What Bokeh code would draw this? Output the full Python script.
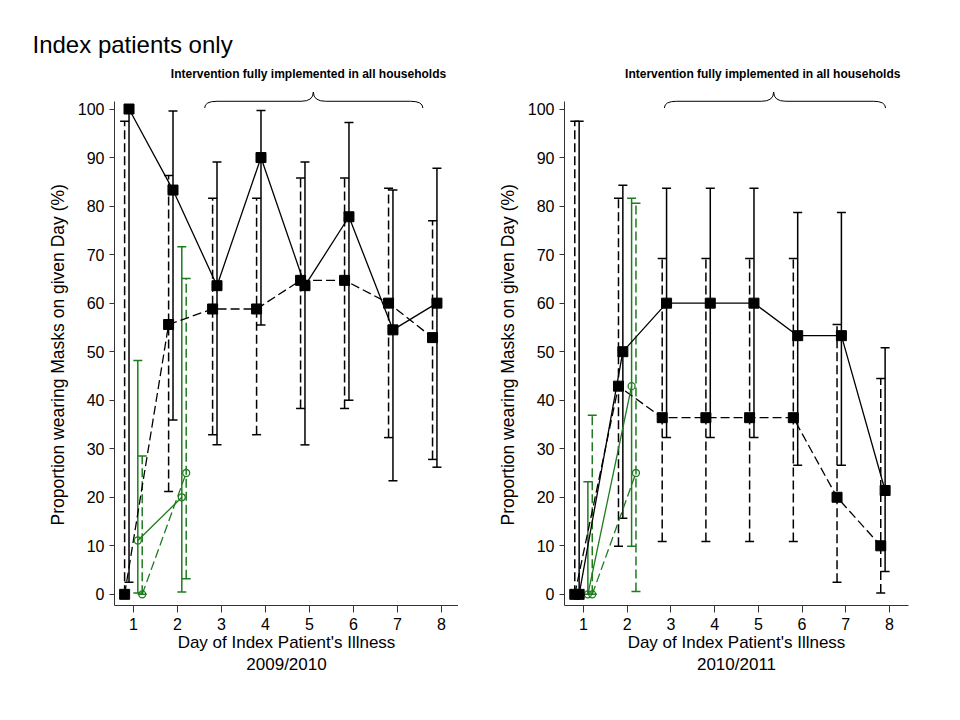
from bokeh.plotting import figure
from bokeh.models import Range1d, Whisker, TeeHead, ColumnDataSource, Label, FixedTicker, Title
from bokeh.layouts import row
from bokeh.embed import file_html
from bokeh.resources import INLINE

# ---------------- data ----------------
days = [1, 2, 3, 4, 5, 6, 7, 8]
green_days = [1, 2]
y_ticks = [0, 10, 20, 30, 40, 50, 60, 70, 80, 90, 100]

# 2009/2010 (left panel)
l_solid_y = [100, 83.3, 63.6, 90.0, 63.6, 77.8, 54.5, 60.0]
l_solid_lo = [2.5, 35.9, 30.8, 55.5, 30.8, 40.0, 23.4, 26.2]
l_solid_hi = [100, 99.6, 89.1, 99.7, 89.1, 97.2, 83.3, 87.8]
l_dash_y = [0, 55.6, 58.8, 58.8, 64.7, 64.7, 60.0, 52.9]
l_dash_lo = [0, 21.2, 32.9, 32.9, 38.3, 38.3, 32.3, 27.8]
l_dash_hi = [97.5, 86.3, 81.6, 81.6, 85.8, 85.8, 83.7, 77.0]
lg_solid_y = [11.1, 20.0]
lg_solid_lo = [0.3, 0.5]
lg_solid_hi = [48.2, 71.6]
lg_dash_y = [0, 25.0]
lg_dash_lo = [0, 3.2]
lg_dash_hi = [28.5, 65.1]

# 2010/2011 (right panel)
r_solid_y = [0, 50.0, 60.0, 60.0, 60.0, 53.3, 53.3, 21.4]
r_solid_lo = [0, 15.7, 32.3, 32.3, 32.3, 26.6, 26.6, 4.7]
r_solid_hi = [97.5, 84.3, 83.7, 83.7, 83.7, 78.7, 78.7, 50.8]
r_dash_y = [0, 42.9, 36.4, 36.4, 36.4, 36.4, 20.0, 10.0]
r_dash_lo = [0, 9.9, 10.9, 10.9, 10.9, 10.9, 2.5, 0.3]
r_dash_hi = [97.5, 81.6, 69.2, 69.2, 69.2, 69.2, 55.6, 44.5]
rg_solid_y = [0, 42.9]
rg_solid_lo = [0, 9.9]
rg_solid_hi = [23.2, 81.6]
rg_dash_y = [0, 25.0]
rg_dash_lo = [0, 0.6]
rg_dash_hi = [36.9, 80.6]

annot_text = "Intervention fully implemented in all households"
x_label_left = "Day of Index Patient's Illness\n2009/2010"
x_label_right = "Day of Index Patient's Illness\n2010/2011"
y_label = "Proportion wearing Masks on given Day (%)"
title_text = "Index patients only"

# ---------------- style ----------------
FONT = "Liberation Sans"
BLACK = "#000000"
GREEN = "#1e7b1e"
AXIS = "#333333"
DASH = "9 4"


def add_series(p, xs, ys, lo, hi, offset, color, dash):
    xx = [d + offset for d in xs]
    src = ColumnDataSource(dict(x=xx, y=ys, lo=lo, hi=hi))
    p.line("x", "y", source=src, line_color=color, line_width=1.3,
           line_dash=dash)
    w = Whisker(source=src, base="x", upper="hi", lower="lo",
                line_color=color, line_width=1.5, line_dash=dash,
                upper_head=TeeHead(size=9, line_color=color, line_width=1.5),
                lower_head=TeeHead(size=9, line_color=color, line_width=1.5))
    p.add_layout(w)
    return src


def add_markers(p, src, color, marker):
    if marker == "square":
        p.scatter("x", "y", source=src, marker="square", size=10,
                  fill_color=color, line_color=color)
    else:
        p.scatter("x", "y", source=src, marker="circle", size=7,
                  fill_color=None, line_color=color, line_width=1.3)


def brace(p, x0, xc, x1, y_end, y_line, y_cusp, dx):
    kw = dict(line_color=BLACK, line_width=1)
    p.quadratic(x0=[x0, x1], y0=[y_end, y_end],
                x1=[x0 + dx, x1 - dx], y1=[y_line, y_line],
                cx=[x0, x1], cy=[y_line, y_line], **kw)
    p.segment(x0=[x0 + dx, xc + dx], y0=[y_line, y_line],
              x1=[xc - dx, x1 - dx], y1=[y_line, y_line], **kw)
    p.quadratic(x0=[xc - dx, xc + dx], y0=[y_line, y_line],
                x1=[xc, xc], y1=[y_cusp, y_cusp],
                cx=[xc, xc], cy=[y_line, y_line], **kw)


def make_panel(width, xr, min_left, min_right, xlabel):
    p = figure(width=width, height=695, x_range=Range1d(*xr),
               y_range=Range1d(-2.3, 110), output_backend="svg",
               toolbar_location=None, min_border_left=min_left,
               min_border_right=min_right, min_border_top=60,
               min_border_bottom=90, background_fill_color="white",
               border_fill_color="white")
    p.outline_line_color = None
    p.grid.visible = False
    p.xaxis.ticker = FixedTicker(ticks=days)
    p.yaxis.ticker = FixedTicker(ticks=y_ticks)
    p.yaxis.bounds = (-2.3, 101.5)
    for ax in (p.xaxis[0], p.yaxis[0]):
        ax.axis_line_color = AXIS
        ax.axis_line_width = 1
        ax.major_tick_line_color = AXIS
        ax.minor_tick_line_color = None
        ax.major_tick_in = 0
        ax.major_label_text_font = FONT
        ax.major_label_text_font_size = "16px"
        ax.major_label_text_color = BLACK
        ax.axis_label_text_font = FONT
        ax.axis_label_text_font_size = "17px"
        ax.axis_label_text_font_style = "normal"
        ax.axis_label_text_color = BLACK
    p.xaxis.major_tick_out = 7
    p.xaxis.major_label_standoff = 5
    p.xaxis.axis_label = xlabel
    p.xaxis.axis_label_standoff = 0
    p.xaxis.axis_label_text_line_height = 1.2
    p.yaxis.major_tick_out = 5
    p.yaxis.major_label_standoff = 5
    ytitle = Title(text=y_label, align="left", offset=80, standoff=13,
                   text_font=FONT, text_font_size="17.5px",
                   text_font_style="normal", text_color=BLACK)
    p.add_layout(ytitle, "left")
    return p


# ---------------- left panel ----------------
p1 = make_panel(458, (0.57, 8.39), 114, 0, x_label_left)
p1.title.text = title_text
p1.title.text_font = FONT
p1.title.text_font_size = "24px"
p1.title.text_font_style = "normal"
p1.title.text_color = BLACK
p1.title.align = "left"
p1.title.offset = -82
p1.title.standoff = 6

s1 = add_series(p1, days, l_solid_y, l_solid_lo, l_solid_hi, -0.1, BLACK, "solid")
s2 = add_series(p1, days, l_dash_y, l_dash_lo, l_dash_hi, -0.2, BLACK, DASH)
s3 = add_series(p1, green_days, lg_solid_y, lg_solid_lo, lg_solid_hi, 0.1, GREEN, "solid")
s4 = add_series(p1, green_days, lg_dash_y, lg_dash_lo, lg_dash_hi, 0.2, GREEN, DASH)
for s, c, m in ((s3, GREEN, "circle"), (s4, GREEN, "circle"), (s2, BLACK, "square"), (s1, BLACK, "square")):
    add_markers(p1, s, c, m)
brace(p1, 2.62, 5.09, 7.58, 100.2, 101.6, 103.5, 0.28)
p1.add_layout(Label(x=4.98, y=107.2, text=annot_text, text_align="center",
                    text_baseline="middle", text_font=FONT,
                    text_font_size="12px", text_font_style="bold",
                    text_color=BLACK))

# ---------------- right panel ----------------
p2 = make_panel(470, (0.565, 8.435), 106, 20, x_label_right)
t1 = add_series(p2, days, r_solid_y, r_solid_lo, r_solid_hi, -0.1, BLACK, "solid")
t2 = add_series(p2, days, r_dash_y, r_dash_lo, r_dash_hi, -0.2, BLACK, DASH)
t3 = add_series(p2, green_days, rg_solid_y, rg_solid_lo, rg_solid_hi, 0.1, GREEN, "solid")
t4 = add_series(p2, green_days, rg_dash_y, rg_dash_lo, rg_dash_hi, 0.2, GREEN, DASH)
for s, c, m in ((t3, GREEN, "circle"), (t4, GREEN, "circle"), (t2, BLACK, "square"), (t1, BLACK, "square")):
    add_markers(p2, s, c, m)
brace(p2, 2.85, 5.35, 7.91, 100.2, 101.6, 103.5, 0.28)
p2.add_layout(Label(x=5.10, y=107.2, text=annot_text, text_align="center",
                    text_baseline="middle", text_font=FONT,
                    text_font_size="12px", text_font_style="bold",
                    text_color=BLACK))

layout = row(p1, p2)
open("out.html", "w").write(file_html(layout, INLINE))
